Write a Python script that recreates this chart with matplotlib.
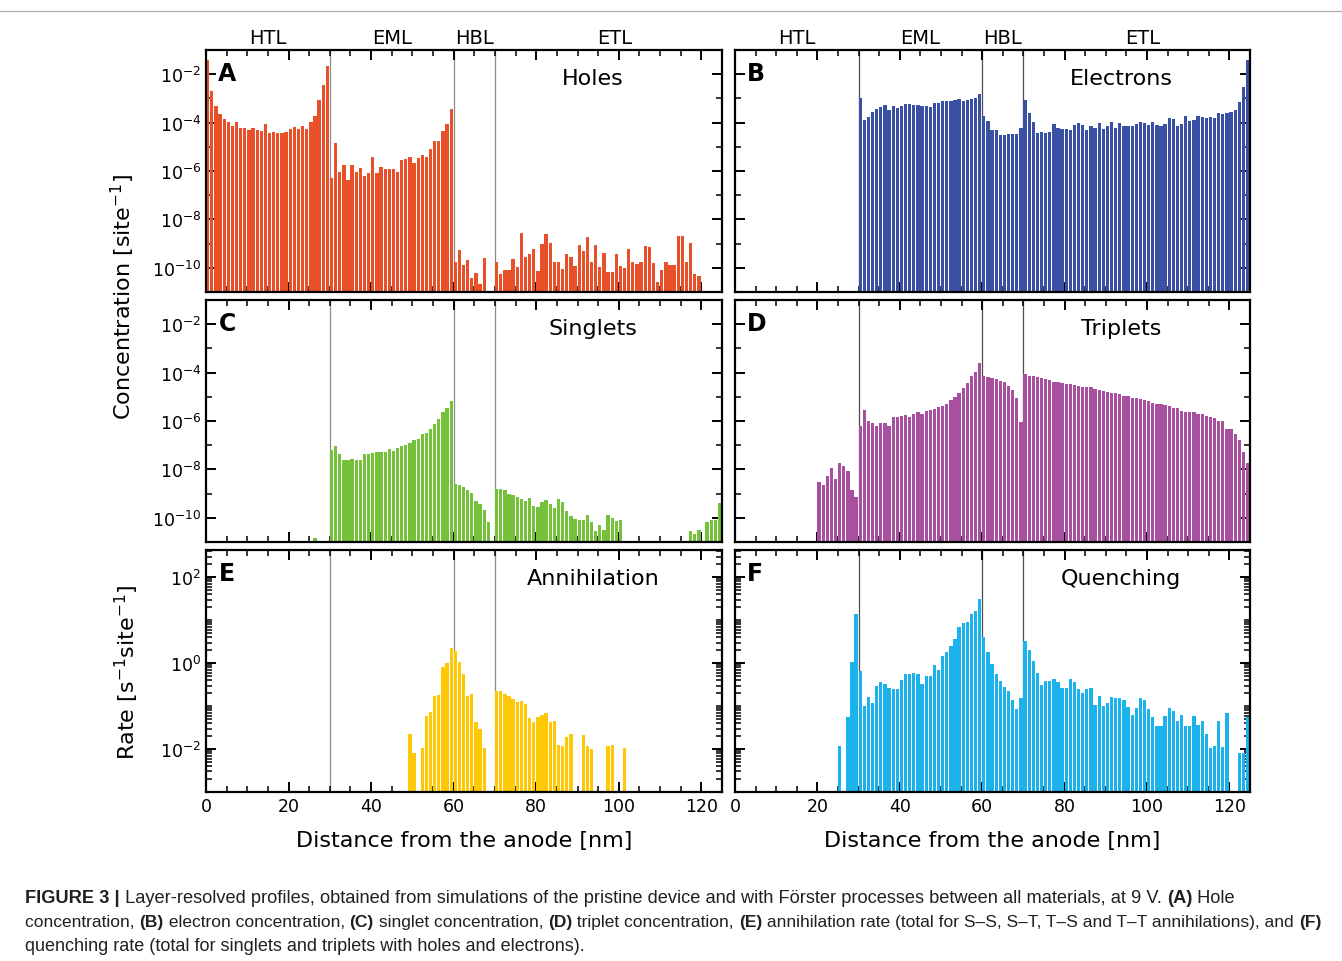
import numpy as np
import matplotlib
matplotlib.use("Agg")
import matplotlib.pyplot as plt
from matplotlib.ticker import FixedLocator, MultipleLocator, NullFormatter, LogLocator
from matplotlib.lines import Line2D
import matplotlib.transforms as mtransforms

nan = np.nan
pos = np.arange(125)    # 1 nm slabs, 0..124 nm

# log10 of the profile values (nan = no bar)
holes_log = [
    -1.42, -2.69, -3.31, -3.63, -3.85, -3.97, -4.14, -3.97, -4.21, -4.22,
    -4.32, -4.22, -4.32, -4.34, -4.04, -4.41, -4.37, -4.41, -4.41, -4.37,
    -4.25, -4.19, -4.25, -4.15, -4.26, -3.96, -3.72, -3.08, -2.43, -1.67,
    -6.28, -4.86, -6.04, -5.77, -6.37, -5.77, -6.06, -5.88, -6.22, -6.07,
    -5.43, -6.07, -5.82, -5.92, -5.92, -5.92, -6.06, -5.56, -5.49, -5.41,
    -5.66, -5.45, -5.32, -5.42, -5.09, -4.77, -4.77, -4.36, -4.06, -3.42,
    -9.77, -9.27, -9.88, -9.66, -10.41, -10.23, -10.65, -9.58, nan, nan,
    -9.77, -10.26, -10.08, -10.11, -9.64, -9.97, -8.57, -9.56, -9.41, -9.23,
    -10.15, -9.01, -8.60, -8.97, -9.78, -9.77, -10.06, -9.42, -9.56, -9.94,
    -9.05, -9.31, -8.73, -9.75, -9.06, -9.97, -9.38, -10.17, -10.19, -9.45,
    -9.92, -10.01, -9.24, -9.75, -9.83, -9.77, -9.08, -9.14, -9.82, -10.58,
    -10.10, -9.75, -9.89, -9.89, -8.70, -8.70, -9.75, -8.97, -10.25, -10.33,
    nan, nan, nan, nan, nan]

electrons_log = [nan] * 30 + [
    -2.99, -3.89, -3.78, -3.57, -3.43, -3.35, -3.27, -3.49, -3.32, -3.39,
    -3.31, -3.23, -3.24, -3.28, -3.27, -3.31, -3.31, -3.35, -3.20, -3.21,
    -3.12, -3.10, -3.10, -3.05, -3.03, -3.12, -3.05, -3.01, -2.97, -2.80,
    -3.72, -3.93, -4.32, -4.32, -4.51, -4.51, -4.48, -4.46, -4.48, -4.21,
    -3.08, -3.59, -3.97, -4.41, -4.37, -4.44, -4.39, -4.04, -4.23, -4.26,
    -4.25, -4.29, -4.11, -4.02, -4.10, -4.32, -4.15, -4.21, -4.02, -4.25,
    -4.15, -3.96, -4.23, -4.01, -4.12, -4.12, -4.15, -4.06, -3.96, -4.02,
    -4.08, -3.99, -4.11, -4.14, -4.04, -3.83, -3.86, -4.15, -4.04, -3.74,
    -3.92, -3.88, -3.74, -3.75, -3.82, -3.77, -3.82, -3.60, -3.64, -3.59,
    -3.57, -3.49, -3.16, -2.52, -1.42]

singlets_log = [nan] * 26 + [-10.83, nan, nan, nan] + [
    -7.20, -7.05, -7.38, -7.61, -7.61, -7.56, -7.60, -7.63, -7.38, -7.38,
    -7.31, -7.29, -7.29, -7.30, -7.17, -7.23, -7.10, -7.03, -6.99, -6.91,
    -6.77, -6.74, -6.54, -6.48, -6.34, -6.11, -5.92, -5.63, -5.45, -5.16,
    -8.62, -8.65, -8.73, -8.87, -8.99, -9.30, -9.43, -9.66, -10.17, nan,
    -8.79, -8.79, -8.86, -9.02, -9.06, -9.16, -9.23, -9.31, -9.20, -9.50,
    -9.56, -9.35, -9.27, -9.43, -9.59, -9.21, -9.35, -9.72, -9.92, -10.03,
    -10.10, -10.11, -9.89, -10.18, -10.54, -10.29, -10.51, -9.90, -9.99, -10.12,
    -10.11] + [nan] * 16 + [-10.55, -10.69, -10.50, nan, -10.17, -10.10, -10.08, -9.40]

triplets_log = [nan] * 20 + [
    -8.51, -8.65, -8.29, -7.93, -8.41, -7.72, -7.85, -8.07, -8.86, -9.14,
    -6.21, -5.56, -6.00, -6.08, -6.22, -6.10, -6.10, -6.21, -5.85, -5.85,
    -5.79, -5.75, -5.83, -5.72, -5.63, -5.72, -5.57, -5.54, -5.49, -5.41,
    -5.38, -5.28, -5.12, -4.99, -4.86, -4.65, -4.44, -4.12, -3.97, -3.61,
    -4.14, -4.18, -4.22, -4.25, -4.34, -4.40, -4.55, -4.72, -5.03, -6.03,
    -4.07, -4.12, -4.15, -4.19, -4.23, -4.28, -4.32, -4.37, -4.37, -4.43,
    -4.46, -4.48, -4.51, -4.54, -4.58, -4.61, -4.61, -4.66, -4.70, -4.77,
    -4.79, -4.83, -4.84, -4.90, -4.95, -4.95, -5.03, -5.06, -5.10, -5.14,
    -5.17, -5.27, -5.30, -5.31, -5.35, -5.38, -5.46, -5.48, -5.59, -5.64,
    -5.61, -5.61, -5.71, -5.72, -5.81, -5.85, -5.89, -6.01, -6.01, -6.32,
    -6.32, -6.55, -6.79, -7.27, -7.72]

annihilation_log = [nan] * 49 + [
    -1.64, -2.09, nan, -1.98, -1.24, -1.14, -0.76, -0.74, -0.09, 0.01, 0.34,
    0.29, 0.03, -0.26, -0.76, -0.73, -1.38, -1.53, -1.97, nan, nan,
    -0.66, -0.64, -0.71, -0.77, -0.84, -0.91, -0.88, -0.95, -1.29, -1.36,
    -1.25, -1.22, -1.16, -1.36, -1.35, -1.91, -1.92, -1.71, -1.64, nan,
    nan, -1.67, -1.92, -2.01, nan, nan, nan, -1.92, -1.91, nan,
    nan, -1.97] + [nan] * 23

quenching_log = [nan] * 25 + [
    -1.94, nan, -1.26, 0.02, 1.14,
    -0.18, -1.00, -0.79, -0.92, -0.54, -0.45, -0.48, -0.58, -0.60, -0.61,
    -0.40, -0.26, -0.26, -0.24, -0.26, -0.49, -0.30, -0.31, -0.05, -0.16,
    0.16, 0.26, 0.40, 0.57, 0.84, 0.94, 0.96, 1.14, 1.22, 1.48,
    0.60, 0.26, -0.02, -0.26, -0.42, -0.56, -0.64, -0.85, -1.08, -0.81,
    0.51, 0.31, 0.04, -0.23, -0.50, -0.42, -0.42, -0.37, -0.45, -0.58,
    -0.58, -0.36, -0.44, -0.60, -0.69, -0.60, -0.57, -0.98, -0.76, -1.01,
    -0.92, -0.79, -0.82, -0.81, -0.85, -1.03, -1.20, -1.05, -0.82, -0.86,
    -1.06, -1.26, -1.46, -1.46, -1.23, -1.05, -1.12, -1.35, -1.22, -1.47,
    -1.47, -1.23, -1.44, -1.35, -1.64, -1.97, -1.92, -1.35, -1.96, -1.17,
    nan, nan, -2.09, -2.09, -1.26]

letters = ["A", "B", "C", "D", "E", "F"]
names = ["Holes", "Electrons", "Singlets", "Triplets", "Annihilation", "Quenching"]
profiles = [holes_log, electrons_log, singlets_log, triplets_log, annihilation_log, quenching_log]
colors = ["#E8502A", "#3A50A5", "#76C13B", "#A8509F", "#FFC805", "#1CB2EC"]

layers = ["HTL", "EML", "HBL", "ETL"]
layer_pos = [15, 45, 65, 99]
interfaces = [30, 60, 70]

W, H = 1342, 962
fig = plt.figure(figsize=(W / 100, H / 100), dpi=100)

# axes boxes in pixels: (left, top, right, bottom)
cols = [(206, 722), (735, 1250)]
rows = [(51, 293), (301, 543), (551, 793)]

axes = []
for k in range(6):
    r, c = divmod(k, 2)
    l, rr = cols[c]
    t, b = rows[r]
    ax = fig.add_axes([l / W, 1 - b / H, (rr - l) / W, (b - t) / H])
    axes.append(ax)

    vals = 10 ** np.array(profiles[k], dtype=float)
    ok = ~np.isnan(vals)
    ax.set_yscale("log")
    ax.bar(pos[ok], vals[ok], width=0.8, align="edge", color=colors[k],
           linewidth=0, zorder=2)
    for xi in interfaces:
        ax.axvline(xi, color="0.55" if c == 0 else "0.3", lw=0.9, zorder=1)

    ax.set_xlim(0, 125)
    ax.xaxis.set_major_locator(MultipleLocator(20))
    ax.xaxis.set_minor_locator(MultipleLocator(5))
    if r < 2:
        ax.set_ylim(1e-11, 1e-1)
        ax.yaxis.set_major_locator(FixedLocator([1e-10, 1e-8, 1e-6, 1e-4, 1e-2]))
        ax.yaxis.set_minor_locator(FixedLocator([1e-11, 1e-9, 1e-7, 1e-5, 1e-3, 1e-1]))
        ax.tick_params(labelbottom=False)
    else:
        ax.set_ylim(1e-3, 10 ** 2.63)
        ax.yaxis.set_major_locator(FixedLocator([1e-2, 1e0, 1e2]))
        ax.yaxis.set_minor_locator(LogLocator(base=10, subs=np.arange(1, 10), numticks=50))
        ax.set_xlabel("Distance from the anode [nm]", fontsize=16, labelpad=11)
    ax.yaxis.set_minor_formatter(NullFormatter())
    if c == 1:
        ax.tick_params(labelleft=False)

    ax.tick_params(which="both", direction="in", top=True, right=True, labelsize=12.5)
    ax.tick_params(which="major", length=7, width=1.4)
    ax.tick_params(which="minor", length=4, width=1.1)
    for sp in ax.spines.values():
        sp.set_linewidth(1.6)

    ax.text(0.024, 0.905, letters[k], transform=ax.transAxes, fontsize=17,
            fontweight="bold", ha="left", va="center")
    ax.text(0.75, 0.885, names[k], transform=ax.transAxes, fontsize=16,
            ha="center", va="center")

    if r == 0:
        tr = mtransforms.blended_transform_factory(ax.transData, ax.transAxes)
        for name, xp in zip(layers, layer_pos):
            ax.text(xp, 1.012, name, transform=tr, fontsize=14, ha="center", va="bottom")

fig.text(123 / W, 1 - 297 / H, "Concentration [site$^{-1}$]", rotation=90,
         fontsize=16, ha="center", va="center")
fig.text(127 / W, 1 - 672 / H, "Rate [s$^{-1}$site$^{-1}$]", rotation=90,
         fontsize=16, ha="center", va="center")

# thin rule at the top of the figure box
fig.add_artist(Line2D([0, 1], [1 - 12 / H] * 2, color="0.7", lw=1))

# caption with bold panel references; each line is sized to end where it does in print
caption = [
    [("FIGURE 3 |", True),
     (" Layer-resolved profiles, obtained from simulations of the pristine device and with "
      "Förster processes between all materials, at 9 V. ", False),
     ("(A)", True), (" Hole", False)],
    [("concentration, ", False), ("(B)", True), (" electron concentration, ", False),
     ("(C)", True), (" singlet concentration, ", False), ("(D)", True),
     (" triplet concentration, ", False), ("(E)", True),
     (" annihilation rate (total for S–S, S–T, T–S and T–T annihilations), and ", False),
     ("(F)", True)],
    [("quenching rate (total for singlets and triplets with holes and electrons).", False)],
]
line_y = [899, 923, 947]
line_end = [1236, 1322, 585]
renderer = fig.canvas.get_renderer()


def draw_line(runs, ypix, size):
    x = 25
    texts = []
    for s, bold in runs:
        t = fig.text(x / W, 1 - ypix / H, s, fontsize=size, family="Liberation Sans",
                     fontweight="bold" if bold else "normal", color="#231F20",
                     ha="left", va="center")
        texts.append(t)
        x += t.get_window_extent(renderer).width
    return texts, x


base = 12.0
for runs, ypix, xend in zip(caption, line_y, line_end):
    texts, x = draw_line(runs, ypix, base)
    for t in texts:
        t.remove()
    draw_line(runs, ypix, base * (xend - 25) / (x - 25))

fig.savefig("out.png", dpi=100)
